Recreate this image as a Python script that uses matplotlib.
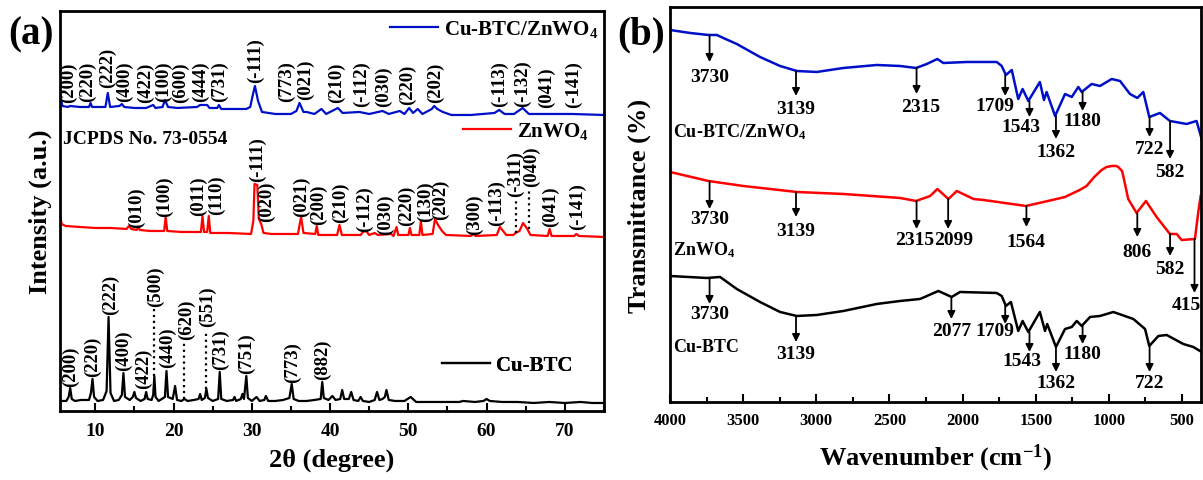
import matplotlib
matplotlib.use("Agg")
import matplotlib.pyplot as plt
from matplotlib.ticker import MultipleLocator

plt.rcParams['font.family'] = ['Liberation Serif', 'DejaVu Serif']
plt.rcParams['font.weight'] = 'bold'
plt.rcParams['axes.labelweight'] = 'bold'
plt.rcParams['mathtext.fontset'] = 'custom'
plt.rcParams['mathtext.rm'] = 'Liberation Serif:bold'
plt.rcParams['mathtext.bf'] = 'Liberation Serif:bold'
plt.rcParams['mathtext.it'] = 'Liberation Serif:bold'
plt.rcParams['mathtext.default'] = 'rm'
plt.rcParams['axes.linewidth'] = 2

# ---------------- XRD (a) ----------------
cubtc_x = [5.5, 6.3, 6.6, 6.8, 7.0, 7.4, 8.2, 9.2, 9.45, 9.65, 9.85, 10.3, 11.0, 11.45, 11.7, 11.95,
           12.4, 13.0, 13.4, 13.6, 13.8, 14.4, 14.8, 15.0, 15.2, 15.8, 16.3, 16.5, 16.7, 17.2, 17.4,
           17.55, 17.7, 18.1, 18.9, 19.1, 19.3, 19.9, 20.2, 20.45, 21.0, 21.4, 21.8, 22.6, 23.2, 23.4,
           23.6, 24.0, 24.2, 24.4, 25.0, 25.7, 25.9, 26.1, 26.8, 27.6, 27.8, 28.0, 28.6, 28.8, 29.0,
           29.3, 29.5, 30.0, 30.6, 31.0, 31.6, 31.8, 32.1, 33.0, 34.0, 34.8, 35.1, 35.35, 36.0, 37.0,
           38.0, 38.8, 39.0, 39.2, 39.8, 40.3, 40.7, 41.3, 41.55, 41.8, 42.4, 42.7, 43.0, 43.6, 43.9,
           44.2, 45.0, 45.7, 46.0, 46.3, 46.7, 47.0, 47.2, 47.5, 48.3, 49.5, 50.3, 51.0, 52.5, 54.5,
           56.5, 57.0, 58.5, 59.6, 60.0, 60.4, 62.0, 64.0, 66.0, 68.0, 70.0, 72.0, 73.5, 75.0]
cubtc_y = [10, 10, 14, 23, 12, 10, 11, 11, 18, 32, 14, 10, 11, 20, 94, 18,
           10, 11, 16, 38, 14, 11, 14, 19, 13, 10, 12, 19, 12, 11, 16,
           35, 14, 10, 14, 40, 14, 12, 25, 11, 10, 12, 10, 11, 12, 17,
           11, 13, 22, 13, 10, 12, 39, 12, 10, 11, 14, 10, 12, 17, 12,
           35, 13, 10, 14, 10, 11, 15, 10, 10, 11, 13, 27, 12, 10, 10,
           11, 12, 29, 13, 11, 15, 11, 12, 21, 12, 12, 19, 11, 10, 14,
           10, 9, 11, 19, 11, 12, 14, 21, 11, 10, 10, 14, 9, 9, 9,
           9, 10, 9, 10, 12, 10, 9, 9, 8, 9, 8, 9, 8, 8]

znwo4_x = [5.5, 5.7, 6.2, 8.0, 10.0, 12.0, 14.0, 14.3, 14.6, 15.3, 15.5, 15.7, 17.0, 18.8, 19.0, 19.2,
           21.0, 23.5, 23.7, 23.9, 24.3, 24.5, 24.7, 27.0, 29.9, 30.2, 30.35, 30.7, 30.9, 31.2, 31.5,
           32.5, 35.9, 36.1, 36.3, 36.6, 38.1, 38.3, 38.5, 40.9, 41.2, 41.5, 43.9, 44.2, 44.6, 45.0,
           45.7, 46.1, 47.8, 48.1, 48.5, 48.7, 50.0, 50.2, 50.4, 51.4, 51.6, 51.8, 53.1, 53.4, 53.8,
           54.3, 54.8, 58.0, 58.3, 58.6, 61.3, 61.7, 62.1, 62.5, 63.4, 63.7, 64.2, 64.65, 65.2, 65.6,
           67.8, 68.05, 68.3, 71.2, 71.45, 71.8, 75.0]
znwo4_y = [197, 187, 185, 184, 183, 183, 182, 185, 182, 181, 184, 181, 180, 180, 194, 180,
           179, 179, 195, 179, 179, 195, 178, 178, 177, 190, 227, 226, 192, 187, 178,
           177, 177, 186, 194, 178, 177, 185, 176, 176, 186, 176, 176, 179, 180, 176,
           178, 176, 177, 175, 184, 176, 176, 183, 176, 176, 190, 176, 177, 192, 186,
           180, 176, 175, 177, 175, 176, 184, 180, 176, 176, 178, 180, 188, 182, 176,
           175, 182, 175, 175, 177, 175, 174]

comp_x = [5.5, 5.8, 6.5, 6.8, 8.0, 9.2, 9.4, 9.6, 11.3, 11.6, 11.9, 13.1, 13.4, 13.7, 15.0, 16.5,
          17.4, 17.7, 18.6, 18.9, 19.3, 20.5, 23.0, 23.4, 24.3, 24.6, 25.6, 25.8, 26.1, 28.5, 29.3,
          29.8, 30.1, 30.4, 30.8, 31.3, 33.0, 35.0, 35.7, 36.1, 36.6, 37.0, 38.0, 38.9, 39.5, 41.0,
          41.6, 43.75, 45.0, 46.7, 47.5, 48.9, 49.5, 50.1, 50.6, 51.2, 51.8, 53.0, 53.3, 53.7, 54.4,
          55.5, 58.0, 61.0, 61.6, 62.3, 63.5, 64.6, 65.4, 67.5, 70.9, 75.0]
comp_y = [317, 305, 304, 305, 304, 304, 308, 304, 304, 318, 304, 305, 307, 304, 303, 303,
          306, 303, 304, 311, 304, 303, 304, 306, 306, 303, 303, 306, 302, 302, 302,
          304, 315, 325, 310, 299, 297, 297, 300, 308, 299, 299, 297, 302, 297, 303,
          298, 299, 297, 300, 297, 300, 297, 303, 298, 302, 297, 302, 305, 302, 299,
          296, 296, 298, 301, 297, 297, 303, 297, 297, 297, 296]

comp_hkl = ['(200)', '(220)', '(222)', '(400)', '(422)', '(100)', '(600)', '(444)', '(731)', '(-111)',
            '(773)', '(021)', '(210)', '(-112)', '(030)', '(220)', '(202)', '(-113)', '(-132)',
            '(041)', '(-141)']
comp_hkl_x = [6.52, 8.95, 11.5, 13.68, 16.36, 18.66, 20.83, 23.48, 25.81, 30.41, 34.37, 36.8,
              40.76, 43.96, 46.8, 49.87, 53.41, 61.7, 64.6, 67.68, 71.08]
comp_hkl_y = [309, 310, 324, 310, 309, 310, 309, 310, 310, 329, 310, 312, 309, 305, 305, 307,
              309, 305, 305, 304, 304]

znwo4_hkl = ['(010)', '(100)', '(011)', '(110)', '(-111)', '(020)', '(021)', '(200)', '(210)',
             '(-112)', '(030)', '(220)', '(130)', '(202)', '(300)', '(-113)', '(-311)', '(040)',
             '(041)', '(-141)']
znwo4_hkl_x = [15.3, 18.9, 23.17, 25.52, 30.76, 31.9, 36.38, 38.5, 41.27, 44.38, 47.02, 49.7,
               52.13, 54.05, 58.4, 61.3, 63.63, 65.77, 68.19, 71.59]
znwo4_hkl_y = [184, 195, 196, 197, 230, 190, 195, 187, 189, 180, 177, 186, 190, 192, 177, 186,
               215, 225, 185, 182]

cubtc_hkl = ['(200)', '(220)', '(222)', '(400)', '(422)', '(500)', '(440)', '(620)', '(551)',
             '(731)', '(751)', '(773)', '(882)']
cubtc_hkl_x = [6.78, 9.63, 11.89, 13.59, 16.14, 17.64, 19.26, 21.6, 24.37, 25.94, 29.35, 35.18, 39.06]
cubtc_hkl_y = [25, 35, 97, 41, 23, 105, 44, 72, 85, 42, 38, 29, 32]

# dotted guide lines (2theta, from, to)
guide_x = [17.5, 21.4, 24.2, 63.7, 65.4]
guide_y0 = [35, 12, 22, 178, 182]
guide_y1 = [102, 69, 80, 212, 223]

# ---------------- FTIR (b) ----------------
comp_wn = [4000, 3863, 3738, 3680, 3636, 3544, 3385, 3248, 3134, 2997, 2815, 2587, 2428, 2318, 2245,
           2173, 2132, 1972, 1767, 1733, 1704, 1664, 1620, 1590, 1551, 1472, 1444, 1426, 1368,
           1300, 1254, 1209, 1186, 1118, 1061, 981, 924, 856, 806, 765, 724, 651, 583, 469, 401, 366]
comp_t = [372, 369, 367, 367, 364, 358, 345, 336, 331, 330, 334, 337, 336, 334, 338,
          343, 339, 340, 340, 336, 327, 332, 303, 313, 301, 320, 302, 310, 286,
          308, 305, 315, 310, 318, 316, 323, 321, 308, 304, 310, 285, 289, 281, 278, 281, 263]

znwo4_wn = [4000, 3738, 3500, 3134, 2815, 2428, 2318, 2222, 2173, 2097, 2040, 1926, 1858, 1567,
            1357, 1300, 1200, 1153, 1100, 1050, 1016, 980, 950, 937, 910, 902, 868, 811, 747, 674,
            583, 537, 503, 412, 389, 373]
znwo4_t = [230, 221, 216, 210, 208, 204, 201, 206, 213, 203, 211, 203, 202, 196,
           203, 205, 212, 216, 225, 232, 235, 236, 236, 235, 231, 226, 203, 189, 201, 185,
           168, 168, 162, 163, 190, 206]

cubtc_wn = [4000, 3749, 3658, 3544, 3385, 3248, 3134, 2997, 2815, 2587, 2428, 2291, 2166, 2075,
            2018, 1767, 1733, 1704, 1670, 1620, 1590, 1551, 1472, 1437, 1422, 1362, 1300, 1254,
            1220, 1186, 1129, 1061, 970, 833, 753, 724, 662, 605, 492, 423, 366]
cubtc_t = [126, 124, 125, 113, 100, 90, 86, 87, 91, 98, 101, 103, 111, 105,
           110, 109, 106, 96, 100, 71, 81, 70, 90, 71, 78, 55, 73, 75,
           81, 76, 85, 86, 90, 83, 73, 56, 66, 67, 58, 55, 50]

# band marks: label, wavenumber, arrow start, arrow tip, text x, text y
comp_bands = [('3730', 3730, 367, 340, 3730, 325), ('3139', 3139, 331, 306, 3139, 293),
              ('2315', 2315, 334, 308, 2290, 295), ('1709', 1709, 327, 306, 1778, 296),
              ('1543', 1543, 301, 285, 1600, 275), ('1362', 1362, 286, 263, 1362, 250),
              ('1180', 1180, 310, 291, 1180, 281), ('722', 722, 285, 265, 722, 253),
              ('582', 582, 281, 243, 582, 230)]
znwo4_bands = [('3730', 3730, 221, 193, 3730, 183), ('3139', 3139, 210, 185, 3139, 171),
               ('2315', 2315, 201, 173, 2330, 162), ('2099', 2099, 203, 173, 2060, 162),
               ('1564', 1564, 196, 175, 1564, 160), ('806', 806, 189, 165, 806, 150),
               ('582', 582, 168, 146, 582, 133), ('415', 415, 163, 109, 473, 97)]
cubtc_bands = [('3730', 3730, 124, 98, 3730, 88), ('3139', 3139, 86, 60, 3139, 48),
               ('2077', 2077, 105, 83, 2073, 71), ('1709', 1709, 96, 78, 1778, 71),
               ('1543', 1543, 70, 50, 1594, 41), ('1362', 1362, 55, 30, 1362, 19),
               ('1180', 1180, 76, 58, 1180, 48), ('722', 722, 56, 30, 722, 19)]

blue = '#0010C8'
red = '#FF0000'
bold = 'bold'

fig = plt.figure(figsize=(12.03, 4.81), dpi=100)
ax1 = fig.add_axes([0.0499, 0.1435, 0.4522, 0.8316])
ax2 = fig.add_axes([0.557, 0.1622, 0.4414, 0.8212])

# panel a
l3, = ax1.plot(comp_x, comp_y, color=blue, lw=1.6, label='Cu-BTC/ZnWO$_4$')
l2, = ax1.plot(znwo4_x, znwo4_y, color=red, lw=1.6, label='ZnWO$_4$')
l1, = ax1.plot(cubtc_x, cubtc_y, color='k', lw=1.6, label='Cu-BTC')
for gx, g0, g1 in zip(guide_x, guide_y0, guide_y1):
    ax1.plot([gx, gx], [g0, g1], ':', color='k', lw=1.6)

for labs, xs, ys in [(comp_hkl, comp_hkl_x, comp_hkl_y), (znwo4_hkl, znwo4_hkl_x, znwo4_hkl_y),
                     (cubtc_hkl, cubtc_hkl_x, cubtc_hkl_y)]:
    for lab, x, y in zip(labs, xs, ys):
        ax1.text(x, y, lab, rotation=90, ha='center', va='bottom', fontsize=13.5, fontweight=bold)

ax1.text(0.006, 0.68, 'JCPDS No. 73-0554', transform=ax1.transAxes, ha='left', va='center',
         fontsize=14, fontweight=bold)

for h, pos in [(l3, (0.6066, 0.955)), (l2, (0.7408, 0.70)), (l1, (0.702, 0.115))]:
    leg = ax1.legend(handles=[h], loc='center left', bbox_to_anchor=pos, frameon=False,
                     prop={'size': 15, 'weight': 'bold'}, handlelength=2.3, handletextpad=0.3,
                     borderpad=0, borderaxespad=0)
    ax1.add_artist(leg)

ax1.set_xlim(5.5, 75)
ax1.set_ylim(0, 400)
ax1.set_yticks([])
ax1.xaxis.set_major_locator(MultipleLocator(10))
ax1.xaxis.set_minor_locator(MultipleLocator(5))
ax1.tick_params(axis='x', which='major', direction='in', length=6, width=1.5, labelsize=14, pad=8)
ax1.tick_params(axis='x', which='minor', direction='in', length=3.5, width=1.5)
for t in ax1.get_xticklabels():
    t.set_fontweight(bold)
ax1.set_xlabel('2θ (degree)', fontsize=19, fontweight=bold, labelpad=6)
ax1.set_ylabel('Intensity (a.u.)', fontsize=19, fontweight=bold, labelpad=6)

# panel b
ax2.plot(comp_wn, comp_t, color=blue, lw=1.8)
ax2.plot(znwo4_wn, znwo4_t, color=red, lw=1.8)
ax2.plot(cubtc_wn, cubtc_t, color='k', lw=1.8)

for bands in [comp_bands, znwo4_bands, cubtc_bands]:
    for lab, wn, y0, y1, tx, ty in bands:
        ax2.annotate('', xy=(wn, y1), xytext=(wn, y0),
                     arrowprops=dict(arrowstyle='-|>', color='k', lw=1.3, mutation_scale=11,
                                     shrinkA=0, shrinkB=0))
        ax2.text(tx, ty, lab, ha='center', va='center', fontsize=14, fontweight=bold)

ax2.text(3980, 271, 'Cu-BTC/ZnWO$_4$', ha='left', va='center', fontsize=13, fontweight=bold)
ax2.text(3980, 153, 'ZnWO$_4$', ha='left', va='center', fontsize=13, fontweight=bold)
ax2.text(3980, 55, 'Cu-BTC', ha='left', va='center', fontsize=13, fontweight=bold)

ax2.set_xlim(4000, 370)
ax2.set_ylim(0, 395)
ax2.set_yticks([])
ax2.xaxis.set_major_locator(MultipleLocator(500))
ax2.xaxis.set_minor_locator(MultipleLocator(250))
ax2.tick_params(axis='x', which='major', direction='in', length=6, width=1.5, labelsize=12, pad=7)
ax2.tick_params(axis='x', which='minor', direction='in', length=3.5, width=1.5)
for t in ax2.get_xticklabels():
    t.set_fontweight(bold)
ax2.set_xlabel('Wavenumber (cm$^{-1}$)', fontsize=19, fontweight=bold, labelpad=10)
ax2.set_ylabel('Transmittance (%)', fontsize=19, fontweight=bold, labelpad=14)

fig.text(31 / 1203, 1 - 35 / 481, '(a)', fontsize=28, fontweight=bold, ha='center', va='center')
fig.text(641 / 1203, 1 - 35 / 481, '(b)', fontsize=28, fontweight=bold, ha='center', va='center')

fig.savefig('out.png', dpi=100)
